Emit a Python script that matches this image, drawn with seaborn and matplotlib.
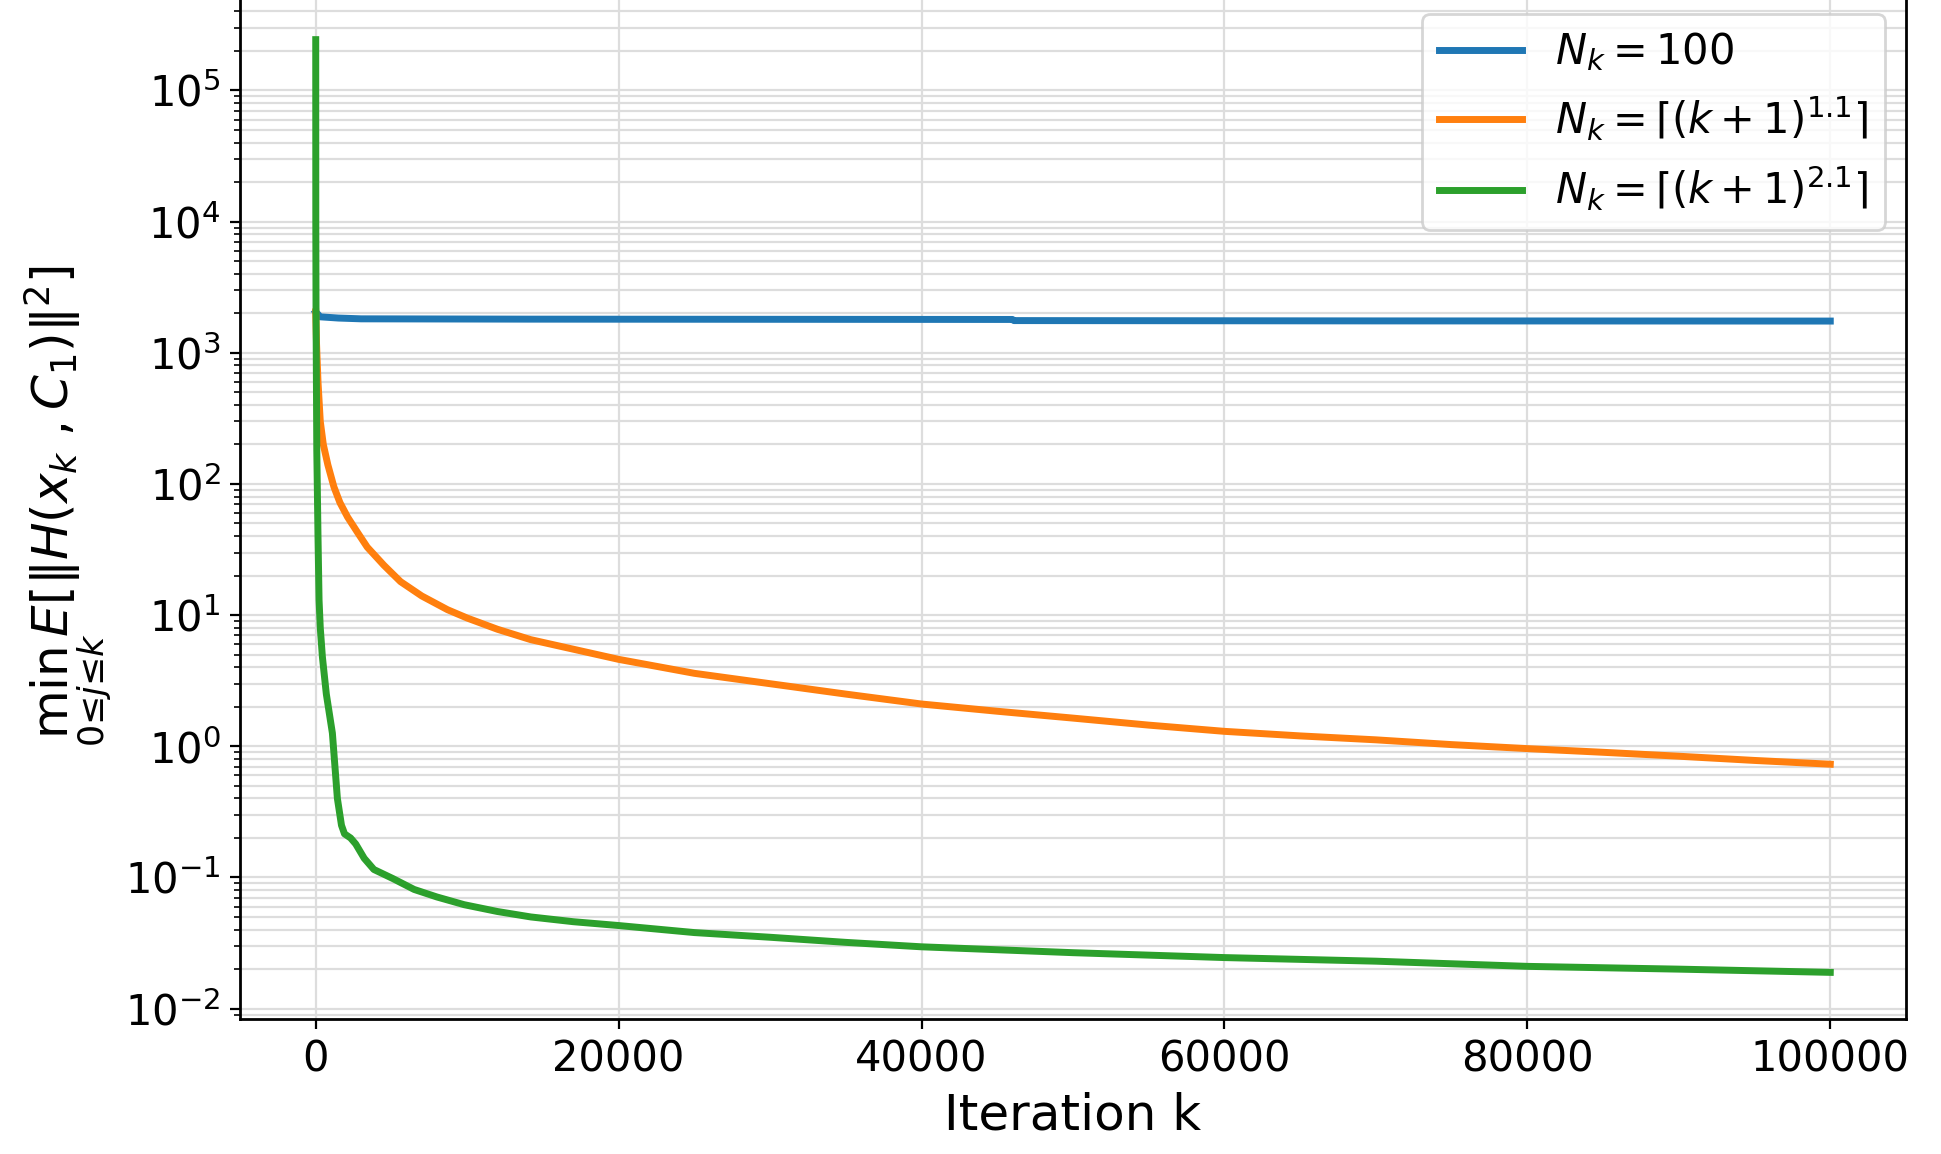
import matplotlib
matplotlib.use("Agg")
import matplotlib.pyplot as plt
import seaborn as sns
import pandas as pd
import numpy as np

# ---- data ----
k_blue = [0, 300, 1500, 3000, 14000, 30000, 46000, 46100, 70000, 100000]
v_blue = [2050, 1880, 1840, 1815, 1805, 1800, 1795, 1760, 1750, 1745]

k_orange = [0, 50, 150, 300, 500, 800, 1200, 1600, 2100, 2800, 3400, 4500, 5600, 7000,
            8700, 10000, 12000, 14200, 17000, 20000, 25000, 30000, 35000, 40000, 45000,
            50000, 55000, 60000, 65000, 70000, 75000, 80000, 85000, 90000, 95000, 100000]
v_orange = [2050, 1200, 600, 300, 200, 140, 95, 72, 56, 42, 33, 24, 18, 14,
            11, 9.5, 7.8, 6.5, 5.5, 4.6, 3.6, 3.0, 2.5, 2.1, 1.85,
            1.64, 1.45, 1.3, 1.2, 1.12, 1.03, 0.96, 0.9, 0.84, 0.78, 0.73]

k_green = [0, 5, 20, 70, 150, 220, 300, 440, 700, 1100, 1430, 1700, 1900, 2300, 2640,
           3200, 3840, 5100, 6500, 8000, 9800, 12000, 14200, 17000, 20000, 25000,
           30000, 35000, 40000, 50000, 60000, 70000, 80000, 90000, 100000]
v_green = [2.44e5, 1e4, 2000, 180, 40, 13, 8, 4.8, 2.5, 1.26, 0.4, 0.25, 0.215, 0.2, 0.18,
           0.14, 0.115, 0.098, 0.081, 0.071, 0.062, 0.055, 0.050, 0.046, 0.043, 0.038,
           0.035, 0.032, 0.0296, 0.0267, 0.0245, 0.023, 0.021, 0.020, 0.0189]

labels = [r"$N_k = 100$",
          r"$N_k = \lceil (k+1)^{1.1} \rceil$",
          r"$N_k = \lceil (k+1)^{2.1} \rceil$"]
colors = ["#1f77b4", "#ff7f0e", "#2ca02c"]

df = pd.concat([
    pd.DataFrame({"k": k_blue, "v": v_blue, "series": labels[0]}),
    pd.DataFrame({"k": k_orange, "v": v_orange, "series": labels[1]}),
    pd.DataFrame({"k": k_green, "v": v_green, "series": labels[2]}),
], ignore_index=True)

plt.rcParams["font.family"] = ["DejaVu Sans"]
plt.rcParams["mathtext.fontset"] = "dejavusans"

fig = plt.figure(figsize=(9.705, 5.77), dpi=200)
ax = fig.add_axes([240/1941, 1 - 1019/1154, (1906 - 240)/1941, (1019 + 7)/1154])

sns.lineplot(data=df, x="k", y="v", hue="series", hue_order=labels, palette=colors,
             estimator=None, sort=False, linewidth=2.5, legend=False, ax=ax)
ax.set_yscale("log")

ax.grid(True, which="both", color="#dddddd", linewidth=0.8)
ax.set_axisbelow(True)
for s in ax.spines.values():
    s.set_color("black")
    s.set_linewidth(1.0)

ax.tick_params(axis="both", which="major", labelsize=15, colors="black")
ax.set_xlabel("Iteration k", fontsize=18)
ax.set_ylabel(r"$\min_{0 \leq j \leq k} E[\|H(x_k\,, C_1)\|^2]$", fontsize=18)

ax.legend(ax.lines[:3], labels, loc="upper right", fontsize=15)

fig.savefig("out.png", dpi=200)
